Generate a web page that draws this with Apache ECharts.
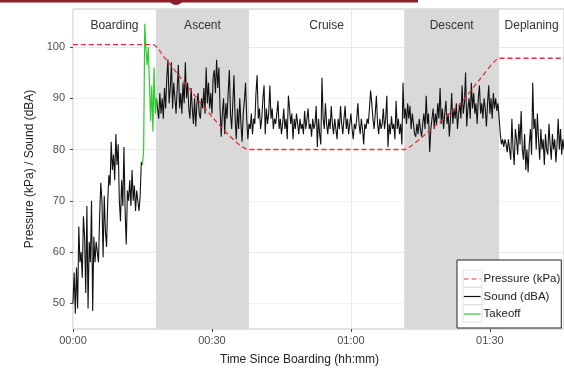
<!DOCTYPE html>
<html>
<head>
<meta charset="utf-8">
<script src="https://cdn.jsdelivr.net/npm/echarts@6/dist/echarts.min.js"></script>
<style>
  html, body { margin: 0; padding: 0; background: #ffffff; }
  #chart { width: 564px; height: 371px; }
</style>
</head>
<body>
<div id="chart"></div>
<script>
// Sampling step of the sound meter, in minutes since boarding
const STEP = 0.25;

// Flight phases: names and boundaries (minutes), shaded = grey band
const phaseNames = ['Boarding', 'Ascent', 'Cruise', 'Descent', 'Deplaning'];
const phaseBounds = [0, 17.9, 38, 71.5, 92, 106];
const phaseShaded = [false, true, false, true, false];

// Cabin pressure (kPa) at key times (minutes)
const pressureTimes = [0, 17.3, 18.3, 19.5, 38, 71.5, 77, 83.5, 88, 92, 106];
const pressureValues = [100.45, 100.45, 99.8, 98.2, 80, 80, 83.7, 88.8, 93.9, 97.8, 97.8];

// Sound level (dBA), one reading per STEP, per phase
const boardingStart = 0;
const boardingSound = [
  50, 56, 48, 57, 49, 65, 58, 60, 55, 67, 63, 52, 69, 49, 62, 58,
  70, 48.5, 63, 58, 62, 60, 58, 67, 73.5, 70, 59, 71, 64, 61, 70, 75,
  73, 81.5, 76, 79, 74, 83, 77, 81, 70, 66, 74, 69, 80.5, 68, 61.5, 72,
  70, 74, 69, 76, 70, 73, 68, 72, 70, 68, 71, 77.5, 77
];
const takeoffStart = 15.25;
const takeoffSound = [80, 104.5, 99.5, 96.5, 100, 93, 85.5, 92.5, 83.5, 96, 87, 90];
const ascentStart = 18.25;
const ascentSound = [
  88, 86, 91, 87, 90, 86, 92, 88, 94, 97.5, 89, 92, 97, 88, 93, 90,
  87, 92, 96.5, 88, 91, 87, 93, 89, 97, 90, 93, 88, 86, 92, 88, 85,
  90, 84.5, 89, 91, 87, 86, 90, 88, 92, 87, 96, 89, 93, 88, 91, 87,
  94, 95.5, 91, 97.5, 92, 96, 88, 82.5, 87, 90, 83, 89, 86, 91, 95.5, 87,
  84, 89, 94.5, 86, 82, 88, 84, 90, 85, 81.5, 87, 89.5, 93, 86, 82, 85
];
const cruiseStart = 38.25;
const cruiseSound = [
  84, 87, 83, 86, 85, 91, 94.5, 86, 88, 84, 86, 90, 92.5, 83, 88, 85,
  87, 92.5, 86, 88, 84, 86, 85, 87, 89.5, 84, 86, 83, 85, 88, 84, 86,
  82, 90.5, 88, 85, 87, 82, 86, 84, 87, 85, 83, 86, 84, 85, 83, 87.5,
  84, 86, 88, 84, 85, 82.5, 86, 84, 85, 88.5, 80.5, 86, 83, 81, 94, 86,
  84, 89, 85, 83, 86, 84, 88.5, 85, 83, 86, 84, 82, 86, 84, 88.5, 85,
  83, 86, 88.5, 84, 86, 83, 85, 87, 84, 82, 85, 84, 86, 89, 85, 83,
  86, 84, 81, 85, 84, 86, 85, 88, 91.5, 89, 86, 84, 87, 90.5, 85, 83,
  86, 84, 85, 88, 84, 86, 90.5, 80.5, 85, 83, 86.5, 84, 85, 82, 89.5, 84,
  86, 83, 85, 81, 93, 86
];
const descentStart = 71.75;
const descentSound = [
  88, 85, 89, 86, 88.5, 84, 87, 85, 83, 82.5, 85, 83, 86, 84, 82.5, 85,
  87, 84, 90.5, 85, 87, 79.5, 84, 86, 88, 84, 87, 85, 89, 86, 92, 85,
  88, 84, 87, 89.5, 85, 87, 82.5, 86, 91, 85, 88, 86, 89, 84, 87, 89,
  86, 92.5, 87, 89, 95, 84.5, 88, 90, 86, 93, 88, 91, 87, 89, 85, 90,
  92.5, 87, 89, 86, 90, 88, 84.5, 89, 92.5, 87, 90, 86, 91, 88, 90, 87.5,
  89, 86
];
const deplaningStart = 92.25;
const deplaningSound = [
  83, 81, 82, 80.5, 82, 81, 79.5, 82, 80, 78, 86, 80, 77, 84, 82, 79,
  85, 81, 87.5, 80, 78, 83, 76, 80, 75.5, 81, 84, 79, 93, 84, 86, 80,
  87, 82, 78, 84, 80, 82, 77, 83, 80, 79, 85, 81, 78, 83, 80, 82,
  77.5, 81, 86, 80, 84, 79, 82, 80
];

// Axis tick positions
const xTickValues = [0, 30, 60, 90];
const yTickValues = [50, 60, 70, 80, 90, 100];

function toPairs(start, values) {
  return values.map((v, i) => [start + i * STEP, v]);
}

const boardingPts = toPairs(boardingStart, boardingSound);
const takeoffPts = toPairs(takeoffStart, takeoffSound);
const lastBoarding = boardingPts[boardingPts.length - 1];
const lastTakeoff = takeoffPts[takeoffPts.length - 1];

// Black sound trace: boarding, break during takeoff, then the rest of the flight
const soundData = []
  .concat(boardingPts)
  .concat([[takeoffStart, null]])
  .concat([lastTakeoff])
  .concat(toPairs(ascentStart, ascentSound))
  .concat(toPairs(cruiseStart, cruiseSound))
  .concat(toPairs(descentStart, descentSound))
  .concat(toPairs(deplaningStart, deplaningSound));

// Green takeoff trace, joined to the last boarding reading
const takeoffData = [lastBoarding].concat(takeoffPts);

const pressureData = pressureTimes.map((t, i) => [t, pressureValues[i]]);

const phaseAreas = phaseNames.map((name, i) => [
  {
    name: name,
    xAxis: phaseBounds[i],
    itemStyle: { color: phaseShaded[i] ? '#d9d9d9' : 'rgba(0,0,0,0)' }
  },
  { xAxis: phaseBounds[i + 1] }
]);

function pad2(n) { return (n < 10 ? '0' : '') + n; }
function hhmm(v) {
  const m = Math.round(v);
  return pad2(Math.floor(m / 60)) + ':' + pad2(m % 60);
}

const FONT = 'Liberation Sans, Arial, sans-serif';

const chart = echarts.init(document.getElementById('chart'), null, { renderer: 'canvas' });

chart.setOption({
  animation: false,
  backgroundColor: '#ffffff',
  textStyle: { fontFamily: FONT },
  grid: {
    left: 73, right: 0, top: 9, bottom: 36,
    show: true, borderColor: '#c4c4c4', borderWidth: 1, backgroundColor: '#ffffff'
  },
  graphic: [
    { type: 'rect', shape: { x: 0, y: 0, width: 418, height: 2.5 }, style: { fill: '#8c1d2c' }, silent: true },
    { type: 'circle', shape: { cx: 176, cy: -2.5, r: 7.5 }, style: { fill: '#8c1d2c' }, silent: true },
    // light grey frames around the legend keys
    { type: 'rect', shape: { x: 463, y: 270, width: 19, height: 17 }, style: { fill: 'none', stroke: '#e2e2e2', lineWidth: 1 }, z: 200, silent: true },
    { type: 'rect', shape: { x: 463, y: 287.5, width: 19, height: 17 }, style: { fill: 'none', stroke: '#e2e2e2', lineWidth: 1 }, z: 200, silent: true },
    { type: 'rect', shape: { x: 463, y: 305, width: 19, height: 17 }, style: { fill: 'none', stroke: '#e2e2e2', lineWidth: 1 }, z: 200, silent: true }
  ],
  legend: {
    data: ['Pressure (kPa)', 'Sound (dBA)', 'Takeoff'],
    orient: 'vertical',
    left: 457, top: 260,
    backgroundColor: '#ffffff',
    borderColor: '#222222', borderWidth: 1,
    padding: [13, 1, 8, 6],
    itemGap: 5.5, itemWidth: 17, itemHeight: 12,
    itemStyle: { opacity: 0 },
    lineStyle: { width: 1.2 },
    textStyle: { fontFamily: FONT, fontSize: 11.5, color: '#222222', padding: [0, 0, 0, -2] }
  },
  xAxis: {
    type: 'value', min: 0, max: 106, interval: 15,
    name: 'Time Since Boarding (hh:mm)', nameLocation: 'middle', nameGap: 25,
    nameTextStyle: { fontFamily: FONT, fontSize: 12, color: '#222222', padding: [0, 38, 0, 0] },
    axisLine: { show: false },
    axisTick: { show: true, customValues: xTickValues, length: 3, lineStyle: { color: '#444444' } },
    axisLabel: {
      customValues: xTickValues, margin: 6,
      fontFamily: FONT, fontSize: 11, color: '#4d4d4d',
      formatter: hhmm
    },
    splitLine: { show: true, lineStyle: { color: ['#e9e9e9', '#f3f3f3'], width: 1 } }
  },
  yAxis: {
    type: 'value', min: 45, max: 107.4, interval: 5,
    name: 'Pressure (kPa) / Sound (dBA)', nameLocation: 'middle', nameGap: 28, nameRotate: 90,
    nameTextStyle: { fontFamily: FONT, fontSize: 12, color: '#222222' },
    axisLine: { show: false },
    axisTick: { show: true, customValues: yTickValues, length: 3, lineStyle: { color: '#444444' } },
    axisLabel: {
      customValues: yTickValues, margin: 8,
      fontFamily: FONT, fontSize: 11, color: '#4d4d4d',
      formatter: v => (v % 10 === 0 ? String(v) : '')
    },
    splitLine: { show: true, lineStyle: { color: ['#f3f3f3', '#e9e9e9'], width: 1 } }
  },
  series: [
    {
      name: 'phases', type: 'line', data: [], z: 1, silent: true,
      markArea: {
        silent: true,
        label: {
          show: true, position: 'insideTop', distance: 11,
          fontFamily: FONT, fontSize: 12, color: '#333333'
        },
        data: phaseAreas
      }
    },
    {
      name: 'Sound (dBA)', type: 'line', data: soundData, z: 3,
      symbol: 'none', connectNulls: false,
      lineStyle: { color: '#111111', width: 1.1 },
      itemStyle: { color: '#111111' }
    },
    {
      name: 'Takeoff', type: 'line', data: takeoffData, z: 4,
      symbol: 'none',
      lineStyle: { color: '#2ccc2c', width: 1.2 },
      itemStyle: { color: '#2ccc2c' }
    },
    {
      name: 'Pressure (kPa)', type: 'line', data: pressureData, z: 5,
      symbol: 'none', smooth: 0.15,
      lineStyle: { color: '#e3323b', width: 1.3, type: [5, 3] },
      itemStyle: { color: '#e3323b' }
    }
  ]
});
</script>
</body>
</html>
